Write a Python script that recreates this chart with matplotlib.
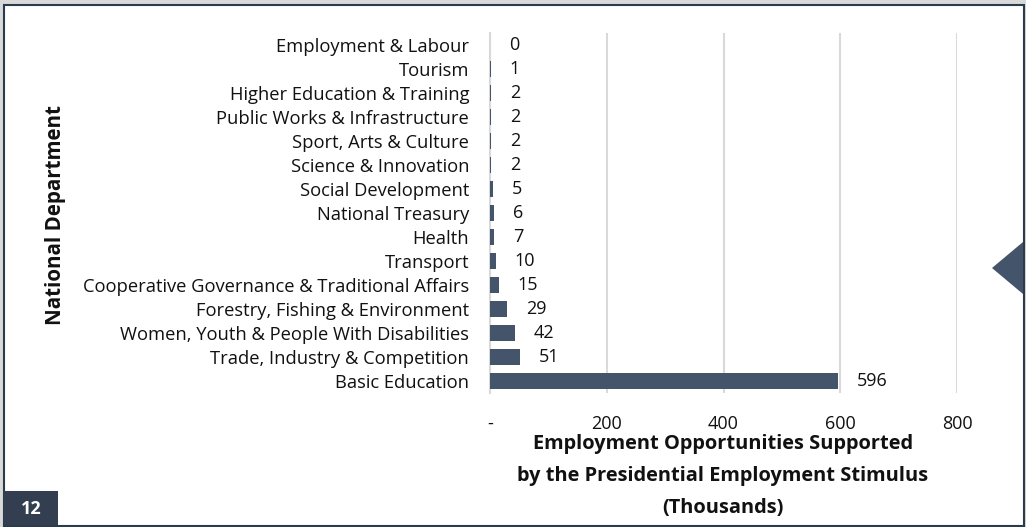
import matplotlib.pyplot as plt
from matplotlib.patches import Rectangle, Polygon

plt.rcParams['font.family'] = ['Open Sans', 'DejaVu Sans']

departments = ['Employment & Labour', 'Tourism', 'Higher Education & Training',
               'Public Works & Infrastructure', 'Sport, Arts & Culture',
               'Science & Innovation', 'Social Development', 'National Treasury',
               'Health', 'Transport', 'Cooperative Governance & Traditional Affairs',
               'Forestry, Fishing & Environment', 'Women, Youth & People With Disabilities',
               'Trade, Industry & Competition', 'Basic Education']
jobs = [0.3, 1, 2, 2, 2, 2, 5, 6, 7, 10, 15, 29, 42, 51, 596]
labels = ['0', '1', '2', '2', '2', '2', '5', '6', '7', '10', '15', '29', '42', '51', '596']
xticks = [0, 200, 400, 600, 800]
xticklabels = ['-', '200', '400', '600', '800']
xtitle = ['Employment Opportunities Supported',
          'by the Presidential Employment Stimulus', '(Thousands)']

W, H = 1026, 527
fig = plt.figure(figsize=(W / 100, H / 100), dpi=100)
fig.patch.set_facecolor('#d9d9d9')

# white slide panel with dark border
fig.patches.append(Rectangle((4 / W, 1.5 / H), 1019.5 / W, 521 / H, transform=fig.transFigure,
                             facecolor='white', edgecolor='#2b3a4c', linewidth=1.5, zorder=-5))

ax = fig.add_axes([490 / W, 1 - 393 / H, (957 - 490) / W, 360 / H], zorder=2)
ax.set_facecolor('none')
ypos = list(range(len(departments)))
ax.barh(ypos, jobs, height=0.67, color='#44546a', zorder=3)
for y, v, t in zip(ypos, jobs, labels):
    ax.annotate(t, (v, y), xytext=(19, 0), textcoords='offset pixels',
                ha='left', va='center', fontsize=13, color='#111111')

ax.set_ylim(len(departments) - 0.5, -0.5)
ax.set_xlim(0, 800)
ax.set_yticks(ypos)
ax.set_yticklabels(departments, fontsize=13.2, color='#111111')
ax.set_xticks(xticks)
ax.set_xticklabels(xticklabels, fontsize=13, color='#111111')
ax.tick_params(axis='both', length=0)
ax.tick_params(axis='y', pad=15)
ax.tick_params(axis='x', pad=16)
ax.grid(axis='x', color='#d9d9d9', linewidth=1.5, zorder=0)
for s in ['top', 'right', 'bottom']:
    ax.spines[s].set_visible(False)
ax.spines['left'].set_color('#d9d9d9')
ax.spines['left'].set_linewidth(1.5)

for line, yc in zip(xtitle, [444, 476, 508]):
    fig.text(723 / W, 1 - yc / H, line, ha='center', va='center',
             fontsize=14.4, fontweight='bold', color='#111111')
fig.text(56 / W, 1 - 215 / H, 'National Department', rotation=90, ha='center', va='center',
         fontsize=14.8, fontweight='bold', color='#111111')

# page number box and side arrow
fig.patches.append(Rectangle((4 / W, 2 / H), 54 / W, 34 / H, transform=fig.transFigure,
                             facecolor='#333f50', edgecolor='none', zorder=1))
fig.text(31 / W, 1 - 509 / H, '12', ha='center', va='center', fontsize=13,
         fontweight='bold', color='white')
fig.patches.append(Polygon([(992 / W, 1 - 268 / H), (1023 / W, 1 - 242 / H), (1023 / W, 1 - 294 / H)],
                           closed=True, transform=fig.transFigure, facecolor='#44546a',
                           edgecolor='none', zorder=1))

fig.savefig('out.png', dpi=100, facecolor=fig.get_facecolor())
